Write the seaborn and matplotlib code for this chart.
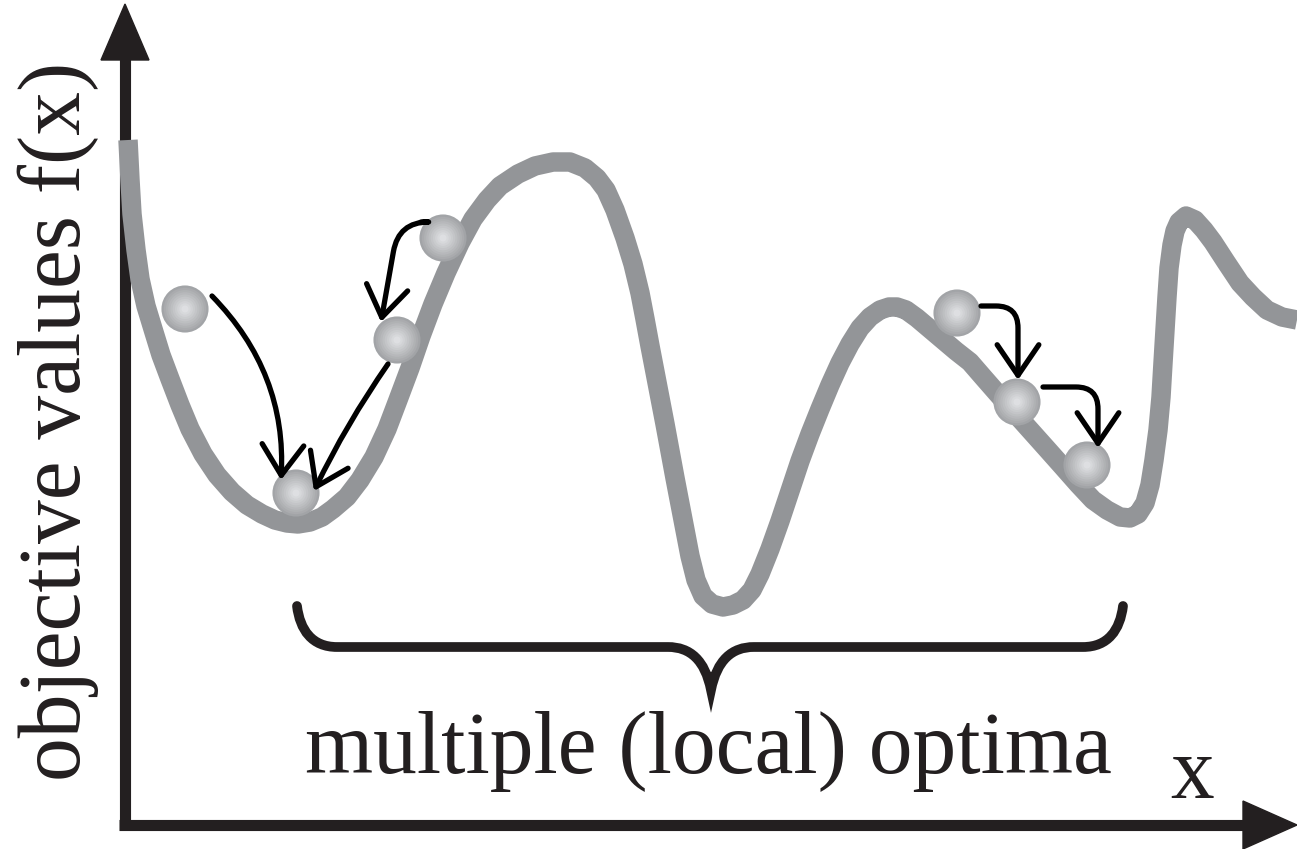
import matplotlib
matplotlib.use("Agg")
import matplotlib.pyplot as plt
import numpy as np
import pandas as pd
import seaborn as sns
from matplotlib.colors import to_hex
from matplotlib.patches import FancyArrowPatch, PathPatch, Polygon
from matplotlib.path import Path

# objective curve (pixel grid, y grows downwards)
curve_x = [128, 130, 132, 136, 140, 146, 153, 161, 170, 180, 190, 203, 217, 232,
           247, 262, 275, 287, 298, 310, 322, 333, 347, 360, 374, 387, 398, 410,
           421, 433, 446, 460, 473, 487, 500, 518, 535, 553, 570, 585, 597, 606,
           615, 625, 633, 640, 645, 650, 655, 660, 665, 670, 675, 680, 685, 690,
           696, 703, 712, 723, 733, 743, 752, 760, 770, 780, 790, 800, 810, 820,
           830, 840, 850, 860, 870, 880, 889, 897, 906, 917, 930, 943, 956, 970,
           983, 997, 1013, 1030, 1047, 1063, 1078, 1093, 1107, 1120, 1130, 1138,
           1145, 1150, 1154, 1158, 1161, 1163, 1165, 1167, 1169, 1172, 1175, 1179,
           1186, 1195, 1204, 1213, 1226, 1240, 1253, 1267, 1282, 1297]
curve_y = [140, 180, 214, 250, 279, 306, 329, 355, 379, 405, 429, 454, 475, 492,
           505, 514, 520, 523, 524, 522, 517, 509, 497, 480, 457, 429, 400, 368,
           336, 304, 273, 243, 219, 200, 186, 174, 166, 162, 162, 168, 178, 190,
           210, 238, 264, 293, 319, 346, 372, 398, 424, 451, 478, 504, 530, 556,
           580, 596, 604, 607, 605, 600, 590, 574, 549, 521, 491, 461, 434, 409,
           385, 363, 344, 328, 317, 310, 307, 307, 310, 318, 329, 340, 351, 362,
           377, 393, 411, 430, 449, 467, 484, 500, 510, 517, 518, 514,
           503, 485, 460, 430, 397, 363, 330, 297, 268, 245, 231, 222,
           216, 220, 230, 242, 262, 283, 297, 310, 317, 320]

# balls sitting on the curve
ball_x = [185, 443, 397, 296, 957, 1017, 1087]
ball_y = [309, 238, 340, 493, 313, 402, 465]

# moves: start, end, connection style
moves = [
    ((212, 296), (281, 480), "arc3,rad=-0.22"),
    ((421, 222), (381, 322), "angle,angleA=180,angleB=80,rad=30"),
    ((388, 364), (314, 491), "arc3,rad=0.04"),
    ((981, 306), (1018, 380), "angle,angleA=0,angleB=90,rad=22"),
    ((1043, 387), (1098, 448), "angle,angleA=0,angleB=90,rad=22"),
]

label_text = "multiple (local) optima"
ylabel_text = "objective values f(x)"
xlabel_text = "x"

GREY = "#939598"
INK = "#231f20"

sns.set_theme(style="white")
plt.rcParams["font.family"] = ["Liberation Serif", "DejaVu Serif"]

fig = plt.figure(figsize=(12.97, 8.49), dpi=100)
ax = fig.add_axes([0, 0, 1, 1])

# axes with arrow heads
ax.plot([125, 125], [830, 55], color=INK, lw=8, solid_capstyle="butt")
ax.plot([119, 1250], [825, 825], color=INK, lw=8, solid_capstyle="butt")
ax.add_patch(Polygon([[125, 4], [101, 60], [149, 60]], closed=True, color=INK))
ax.add_patch(Polygon([[1297, 825], [1243, 801], [1243, 849]], closed=True, color=INK))

# the curve
df = pd.DataFrame({"x": curve_x, "f": curve_y})
sns.lineplot(data=df, x="x", y="f", sort=False, estimator=None, color=GREY,
             lw=14, ax=ax, legend=False)
ax.lines[-1].set_solid_capstyle("butt")
ax.lines[-1].set_solid_joinstyle("round")

# shaded balls
balls = pd.DataFrame({"x": ball_x, "y": ball_y})
sns.scatterplot(data=balls, x="x", y="y", s=1150, color="#a2a4a7",
                edgecolor="none", ax=ax, zorder=3, legend=False)
for k, frac in enumerate(np.linspace(0.9, 0.15, 9)):
    shade = to_hex(np.array([0.64, 0.645, 0.655]) + (0.87 - 0.64) * (k + 1) / 9)
    ax.scatter(ball_x, ball_y, s=1150 * frac ** 2, color=shade,
               edgecolor="none", zorder=3 + 0.01 * (k + 1))

# arrows between balls
for start, end, style in moves:
    ax.add_patch(FancyArrowPatch(
        start, end, connectionstyle=style,
        arrowstyle="->,head_length=1.1,head_width=0.75", mutation_scale=20,
        color="black", lw=3.8, shrinkA=0, shrinkB=0, zorder=5))

# curly brace
verts = [(297, 606), (300, 630), (312, 647), (337, 647),
         (668, 647),
         (690, 647), (705, 660), (711, 690),
         (717, 660), (732, 647), (754, 647),
         (1083, 647),
         (1108, 647), (1120, 630), (1123, 606)]
codes = [Path.MOVETO, Path.CURVE4, Path.CURVE4, Path.CURVE4,
         Path.LINETO,
         Path.CURVE4, Path.CURVE4, Path.CURVE4,
         Path.CURVE4, Path.CURVE4, Path.CURVE4,
         Path.LINETO,
         Path.CURVE4, Path.CURVE4, Path.CURVE4]
ax.add_patch(PathPatch(Path(verts, codes), facecolor="none", edgecolor=INK,
                       lw=7, capstyle="round", joinstyle="miter"))

# texts
ax.text(708, 773, label_text, ha="center", va="baseline", fontsize=63, color=INK)
ax.text(1192, 798, xlabel_text, ha="center", va="baseline", fontsize=63, color=INK)
ax.text(80, 421, ylabel_text, ha="center", va="baseline", rotation=90,
        rotation_mode="anchor", fontsize=63, color=INK)

ax.set_xlim(0, 1297)
ax.set_ylim(849, 0)
ax.set_xlabel("")
ax.set_ylabel("")
ax.axis("off")

fig.savefig("out.png", dpi=100)
